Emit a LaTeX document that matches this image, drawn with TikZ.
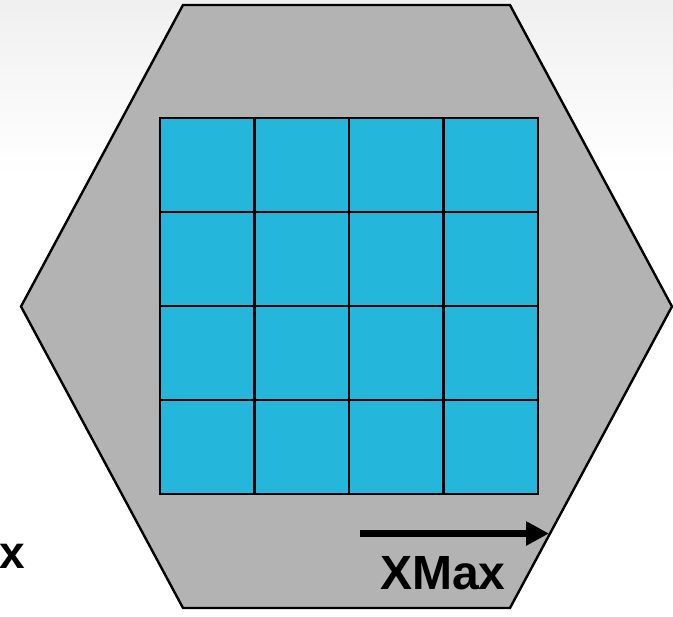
\documentclass[tikz,border=0pt]{standalone}
\usepackage{fontspec}
\setmainfont{Liberation Sans}
\usetikzlibrary{arrows.meta}
\definecolor{hexgray}{HTML}{B3B3B3}
\definecolor{cellblue}{HTML}{24B6DB}
\tikzset{
  hexshape/.style={line width=2.4pt, fill=hexgray, line join=miter},
  cellstyle/.style={line width=2.2pt, fill=cellblue},
  bigarrow/.style={line width=6.5pt, -{Triangle[length=23pt,width=23pt]}},
  bigtext/.style={anchor=base west, inner sep=0pt, font=\bfseries\fontsize{48}{48}\selectfont},
  smalltext/.style={anchor=base west, inner sep=0pt, font=\bfseries\fontsize{46}{46}\selectfont}
}
\begin{document}
\begin{tikzpicture}[x=1pt,y=-1pt]
\useasboundingbox (0,0) rectangle (673,617);
\fill[white] (0,0) rectangle (673,617);
\shade[top color=black!6, bottom color=white] (0,0) rectangle (673,175);
\draw[hexshape] (183,5) -- (510,5) -- (672,306.5) -- (510,608) -- (183,608) -- (21,306.5) -- cycle;
\foreach \i in {0,1,2,3}{
  \foreach \j in {0,1,2,3}{
    \draw[cellstyle] ({160+94.5*\i},{118+94*\j}) rectangle ({160+94.5*(\i+1)},{118+94*(\j+1)});
  }
}
\coordinate (arrS) at (360,533.5);
\coordinate (arrE) at (549,533.5);
\draw[bigarrow] (arrS) -- (arrE);
\node[bigtext] (xmax) at (380,590) {XMax};
\node[smalltext] (xleft) at (-1,569) {x};
\end{tikzpicture}
\end{document}
